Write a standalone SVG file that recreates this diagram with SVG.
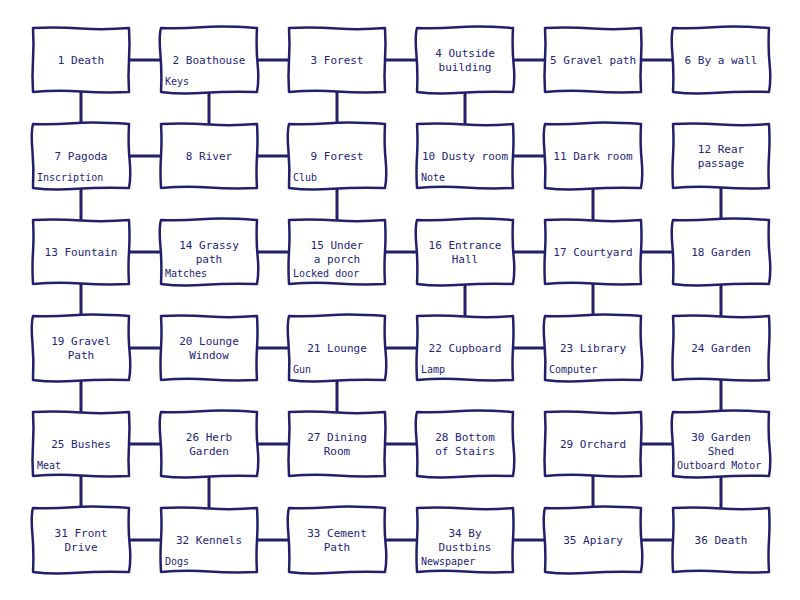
<svg xmlns="http://www.w3.org/2000/svg" xmlns:xlink="http://www.w3.org/1999/xlink" width="800" height="600" viewBox="0 0 800 600">
<style>
.bx{fill:#fff;stroke:#21216b;stroke-width:2.5;stroke-linejoin:round}
.cn line{stroke:#21216b;stroke-width:3}
text{font-family:"DejaVu Sans Mono","Liberation Mono",monospace;fill:#24247a}
.t{font-size:11px;text-anchor:middle}
.i{font-size:10px}
</style>
<defs>
<path id="b1" class="bx" d="M-48,-32 Q-24,-33 0,-31.5 T48,-32 Q49,-16 48,0 T48,32 Q24,33 0,31.5 T-48,32 Q-49,16 -48,0 T-48,-32 Z"/>
<path id="b2" class="bx" d="M-48,-32 Q-30,-31 -8,-32.8 T48,-32 Q47,-12 48.6,4 T48,32 Q20,31 -4,32.8 T-48,32 Q-47,12 -48.6,-6 T-48,-32 Z"/>
</defs>
<rect width="800" height="600" fill="#fff"/>
<g class="cn" id="connectors">
<line x1="81" y1="60" x2="721" y2="60"/>
<line x1="81" y1="156" x2="337" y2="156"/>
<line x1="465" y1="156" x2="593" y2="156"/>
<line x1="81" y1="252" x2="721" y2="252"/>
<line x1="81" y1="348" x2="593" y2="348"/>
<line x1="81" y1="444" x2="465" y2="444"/>
<line x1="593" y1="444" x2="721" y2="444"/>
<line x1="81" y1="540" x2="721" y2="540"/>
<line x1="81" y1="60" x2="81" y2="540"/>
<line x1="209" y1="60" x2="209" y2="156"/>
<line x1="337" y1="60" x2="337" y2="252"/>
<line x1="465" y1="60" x2="465" y2="156"/>
<line x1="593" y1="156" x2="593" y2="348"/>
<line x1="721" y1="156" x2="721" y2="540"/>
<line x1="465" y1="252" x2="465" y2="348"/>
<line x1="337" y1="348" x2="337" y2="444"/>
<line x1="209" y1="444" x2="209" y2="540"/>
<line x1="593" y1="444" x2="593" y2="540"/>
</g>
<g id="n1" transform="translate(81,60)"><use href="#b1"/><text class="t" y="4">1 Death</text></g>
<g id="n2" transform="translate(209,60)"><use href="#b2"/><text class="t" y="4">2 Boathouse</text><text class="i" x="-44" y="25">Keys</text></g>
<g id="n3" transform="translate(337,60)"><use href="#b1"/><text class="t" y="4">3 Forest</text></g>
<g id="n4" transform="translate(465,60)"><use href="#b2"/><text class="t" y="-3">4 Outside</text><text class="t" y="11">building</text></g>
<g id="n5" transform="translate(593,60)"><use href="#b1"/><text class="t" y="4">5 Gravel path</text></g>
<g id="n6" transform="translate(721,60)"><use href="#b2"/><text class="t" y="4">6 By a wall</text></g>
<g id="n7" transform="translate(81,156)"><use href="#b2"/><text class="t" y="4">7 Pagoda</text><text class="i" x="-44" y="25">Inscription</text></g>
<g id="n8" transform="translate(209,156)"><use href="#b1"/><text class="t" y="4">8 River</text></g>
<g id="n9" transform="translate(337,156)"><use href="#b2"/><text class="t" y="4">9 Forest</text><text class="i" x="-44" y="25">Club</text></g>
<g id="n10" transform="translate(465,156)"><use href="#b1"/><text class="t" y="4">10 Dusty room</text><text class="i" x="-44" y="25">Note</text></g>
<g id="n11" transform="translate(593,156)"><use href="#b2"/><text class="t" y="4">11 Dark room</text></g>
<g id="n12" transform="translate(721,156)"><use href="#b1"/><text class="t" y="-3">12 Rear</text><text class="t" y="11">passage</text></g>
<g id="n13" transform="translate(81,252)"><use href="#b1"/><text class="t" y="4">13 Fountain</text></g>
<g id="n14" transform="translate(209,252)"><use href="#b2"/><text class="t" y="-3">14 Grassy</text><text class="t" y="11">path</text><text class="i" x="-44" y="25">Matches</text></g>
<g id="n15" transform="translate(337,252)"><use href="#b1"/><text class="t" y="-3">15 Under</text><text class="t" y="11">a porch</text><text class="i" x="-44" y="25">Locked door</text></g>
<g id="n16" transform="translate(465,252)"><use href="#b2"/><text class="t" y="-3">16 Entrance</text><text class="t" y="11">Hall</text></g>
<g id="n17" transform="translate(593,252)"><use href="#b1"/><text class="t" y="4">17 Courtyard</text></g>
<g id="n18" transform="translate(721,252)"><use href="#b2"/><text class="t" y="4">18 Garden</text></g>
<g id="n19" transform="translate(81,348)"><use href="#b2"/><text class="t" y="-3">19 Gravel</text><text class="t" y="11">Path</text></g>
<g id="n20" transform="translate(209,348)"><use href="#b1"/><text class="t" y="-3">20 Lounge</text><text class="t" y="11">Window</text></g>
<g id="n21" transform="translate(337,348)"><use href="#b2"/><text class="t" y="4">21 Lounge</text><text class="i" x="-44" y="25">Gun</text></g>
<g id="n22" transform="translate(465,348)"><use href="#b1"/><text class="t" y="4">22 Cupboard</text><text class="i" x="-44" y="25">Lamp</text></g>
<g id="n23" transform="translate(593,348)"><use href="#b2"/><text class="t" y="4">23 Library</text><text class="i" x="-44" y="25">Computer</text></g>
<g id="n24" transform="translate(721,348)"><use href="#b1"/><text class="t" y="4">24 Garden</text></g>
<g id="n25" transform="translate(81,444)"><use href="#b1"/><text class="t" y="4">25 Bushes</text><text class="i" x="-44" y="25">Meat</text></g>
<g id="n26" transform="translate(209,444)"><use href="#b2"/><text class="t" y="-3">26 Herb</text><text class="t" y="11">Garden</text></g>
<g id="n27" transform="translate(337,444)"><use href="#b1"/><text class="t" y="-3">27 Dining</text><text class="t" y="11">Room</text></g>
<g id="n28" transform="translate(465,444)"><use href="#b2"/><text class="t" y="-3">28 Bottom</text><text class="t" y="11">of Stairs</text></g>
<g id="n29" transform="translate(593,444)"><use href="#b1"/><text class="t" y="4">29 Orchard</text></g>
<g id="n30" transform="translate(721,444)"><use href="#b2"/><text class="t" y="-3">30 Garden</text><text class="t" y="11">Shed</text><text class="i" x="-44" y="25">Outboard Motor</text></g>
<g id="n31" transform="translate(81,540)"><use href="#b2"/><text class="t" y="-3">31 Front</text><text class="t" y="11">Drive</text></g>
<g id="n32" transform="translate(209,540)"><use href="#b1"/><text class="t" y="4">32 Kennels</text><text class="i" x="-44" y="25">Dogs</text></g>
<g id="n33" transform="translate(337,540)"><use href="#b2"/><text class="t" y="-3">33 Cement</text><text class="t" y="11">Path</text></g>
<g id="n34" transform="translate(465,540)"><use href="#b1"/><text class="t" y="-3">34 By</text><text class="t" y="11">Dustbins</text><text class="i" x="-44" y="25">Newspaper</text></g>
<g id="n35" transform="translate(593,540)"><use href="#b2"/><text class="t" y="4">35 Apiary</text></g>
<g id="n36" transform="translate(721,540)"><use href="#b1"/><text class="t" y="4">36 Death</text></g>
</svg>
